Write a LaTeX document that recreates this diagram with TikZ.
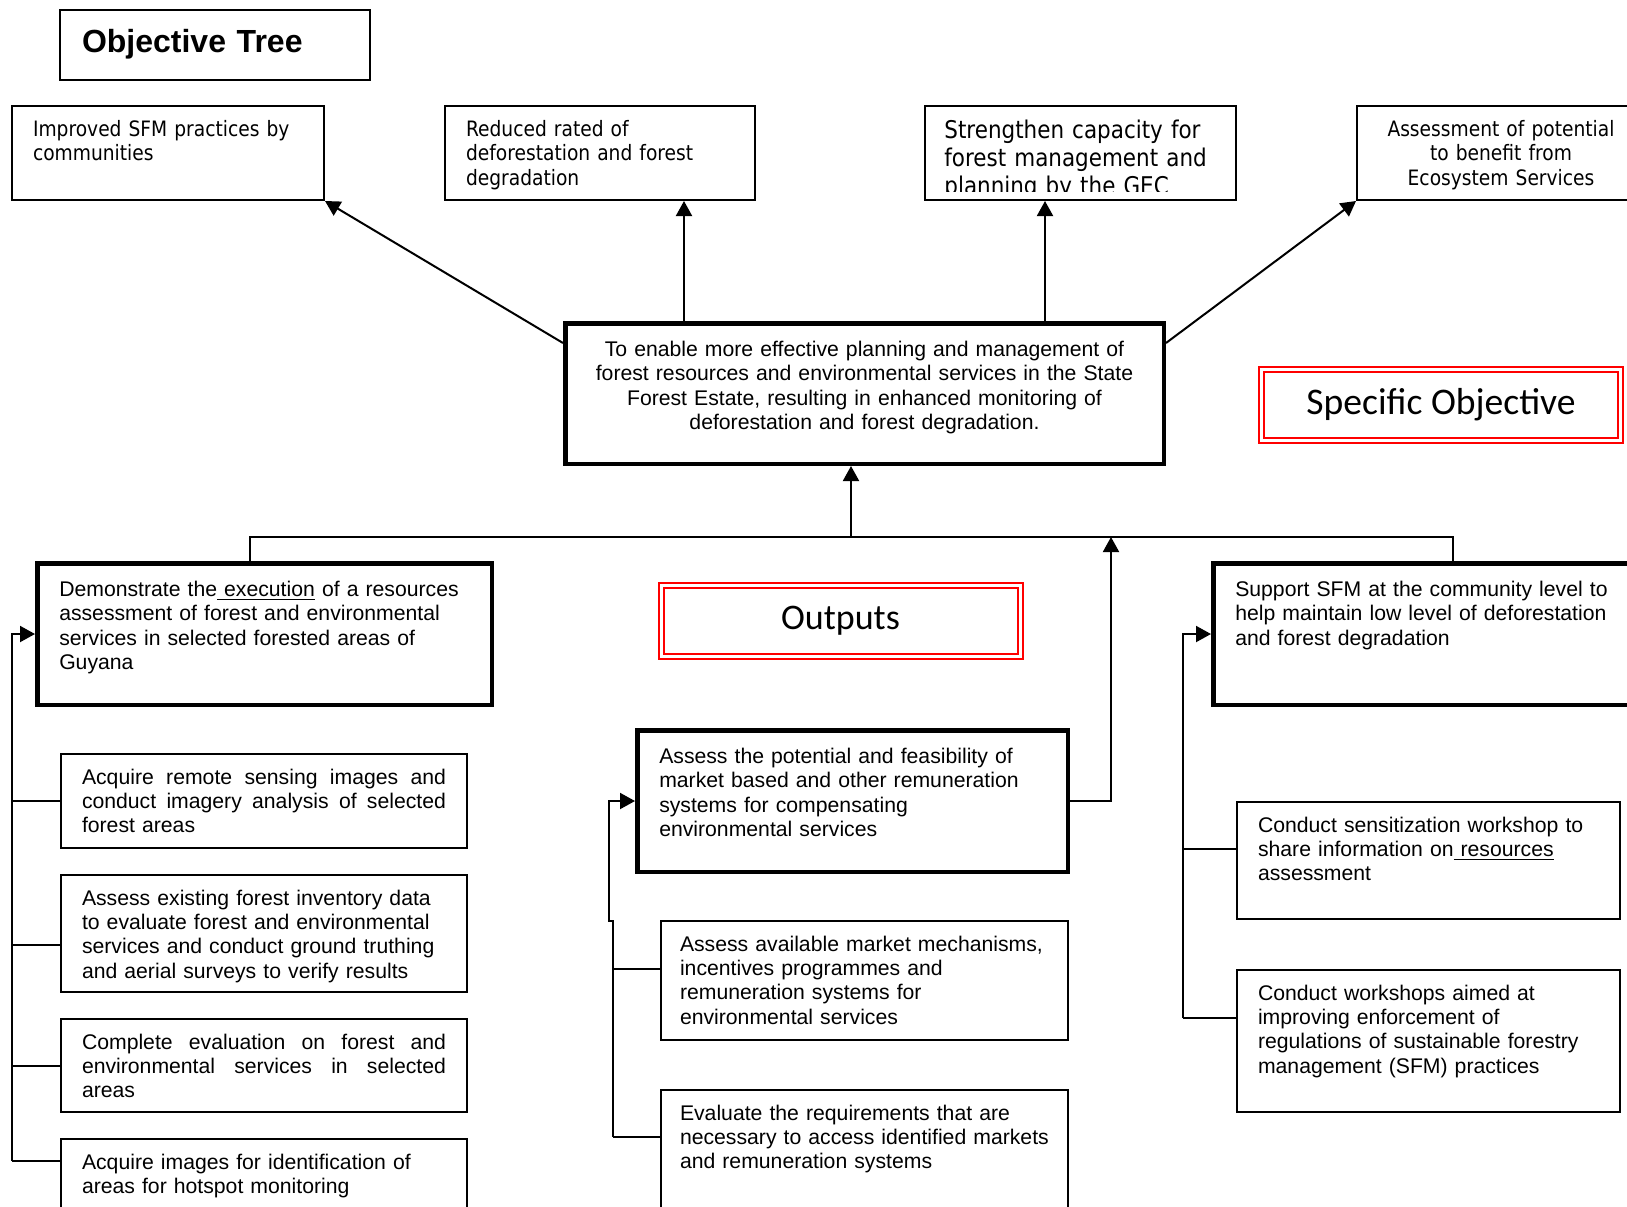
\documentclass[tikz,border=0pt]{standalone}
\usepackage{fontspec}
\setmainfont{Liberation Sans}
\newfontfamily\tahoma[FakeStretch=0.88]{DejaVu Sans}
\newfontfamily\calibri{Carlito}
\usetikzlibrary{arrows.meta}
\newcommand{\jline}[1]{\makebox[\linewidth][s]{\spaceskip=.3em plus 2em\relax #1}}

\tikzset{
  box/.style={draw, line width=1pt, anchor=north west, align=left,
    inner xsep=10.5pt, inner ysep=7pt, text height=8pt,
    font=\fontsize{10.6}{12.2}\selectfont},
  thickbox/.style={box, line width=2.25pt, inner xsep=11pt, inner ysep=8.5pt},
  topbox/.style={box, font=\tahoma\fontsize{10.6}{12.4}\selectfont},
  redbox/.style={draw=red, double=white, double distance=1.5pt, line width=1pt,
    minimum width=179.5pt, minimum height=35.5pt,
    font=\calibri\fontsize{18}{22}\selectfont},
  arr/.style={-{Triangle[length=7.5pt,width=8pt]}, line width=1pt},
  link/.style={line width=1pt}
}

\begin{document}
\begin{tikzpicture}[x=0.5pt,y=-0.5pt]
    \useasboundingbox (0,0) rectangle (1627,1206);
    \node[box, text width=133pt, inner xsep=11pt, inner ysep=9.5pt,
    text height=11.5pt, text depth=4.5pt, font=\bfseries\fontsize{16}{19}\selectfont]
    (title) at (59,9) {Objective Tree};

    % results
    \node[topbox, text width=135pt, text depth=25pt] (res1) at (11,105)
    {Improved SFM practices by\\communities};
    \node[topbox, text width=134pt, text depth=25pt] (res2) at (444,105)
    {Reduced rated of\\deforestation and forest\\degradation};
    \node[draw, line width=1pt, anchor=north west, minimum width=155.5pt,
    minimum height=47pt] (res3) at (924,105) {};
    \begin{scope}
        \clip (924,105) rectangle (1237,191);
        \node[anchor=north west, inner sep=0pt, align=left, text width=140pt,
        text height=9pt, font=\tahoma\fontsize{12.2}{14}\selectfont] (res3txt) at (944,120)
        {Strengthen capacity for\\forest management and\\planning by the GEC};
    \end{scope}
    \node[topbox, align=center, text width=123pt, text depth=25pt] (res4) at (1356,105)
    {Assessment of potential\\to benefit from\\Ecosystem Services};

    % specific objective
    \node[thickbox, align=center, text width=279.25pt, inner xsep=10pt, text depth=45.25pt]
    (purpose) at (563,321)
    {To enable more effective planning and management of\\
    forest resources and environmental services in the State\\
    Forest Estate, resulting in enhanced monitoring of\\
    deforestation and forest degradation.};
    \node[redbox, font=\calibri\fontsize{18.8}{22}\selectfont] (lblso) at (1441,405)
    {Specific Objective};
    \node[redbox] (lblout) at (840.5,621) {Outputs};

    \draw[arr] ([yshift=-11pt]purpose.north west) -- (res1.south east);
    \draw[arr] (purpose.north -| 684,0) -- (res2.south -| 684,0);
    \draw[arr] (purpose.north -| 1045,0) -- (res3.south -| 1045,0);
    \draw[arr] ([yshift=-11pt]purpose.north east) -- (res4.south west);

    % outputs
    \node[thickbox, text width=205.25pt, text depth=45.75pt] (out1) at (35,561)
    {Demonstrate the\underline{ execution} of a resources\\
    assessment of forest and environmental\\
    services in selected forested areas of\\Guyana};
    \node[thickbox, text width=193.25pt, text depth=45.75pt] (out2) at (635,728)
    {Assess the potential and feasibility of\\
    market based and other remuneration\\
    systems for compensating\\environmental services};
    \node[thickbox, text width=195.5pt, text depth=45.75pt] (out3) at (1211,561)
    {Support SFM at the community level to\\
    help maintain low level of deforestation\\
    and forest degradation};

    \coordinate (barL) at (250,537);
    \coordinate (barR) at (1453,537);
    \coordinate (barUp) at (851,537);
    \coordinate (barIn) at (1111,537);
    \draw[link] (barL |- out1.north) -- (barL) -- (barR) -- (barR |- out3.north);
    \draw[arr] (barUp) -- (barUp |- purpose.south);
    \draw[arr] (out2.east) -- (out2.east -| barIn) -- (barIn);

    % activities
    \node[box, text width=182pt, text depth=25pt] (act1) at (60,753)
    {\jline{Acquire remote sensing images and}\\
    \jline{conduct imagery analysis of selected}\\forest areas};
    \node[box, text width=182pt, text depth=36.5pt] (act2) at (60,874)
    {Assess existing forest inventory data\\
    to evaluate forest and environmental\\
    services and conduct ground truthing\\
    and aerial surveys to verify results};
    \node[box, text width=182pt, text depth=24.5pt] (act3) at (60,1018)
    {\jline{Complete evaluation on forest and}\\
    \jline{environmental services in selected}\\areas};
    \node[box, text width=182pt, text depth=19pt] (act4) at (60,1138)
    {Acquire images for identification of\\areas for hotspot monitoring};

    \node[box, text width=184.5pt, inner xsep=9.5pt, text depth=37.5pt] (act5) at (660,920)
    {Assess available market mechanisms,\\
    incentives programmes and\\
    remuneration systems for\\environmental services};
    \node[box, text width=184.5pt, inner xsep=9.5pt, text depth=43.5pt] (act6) at (660,1089)
    {Evaluate the requirements that are\\
    necessary to access identified markets\\
    and remuneration systems};

    \node[box, text width=170.5pt, text depth=36.5pt] (act7) at (1236,801)
    {Conduct sensitization workshop to\\
    share information on\underline{ resources}\\assessment};
    \node[box, text width=170.5pt, text depth=49pt] (act8) at (1236,969)
    {Conduct workshops aimed at\\
    improving enforcement of\\
    regulations of sustainable forestry\\
    management (SFM) practices};

    % spines
    \coordinate (spL) at (12,1161);
    \draw[arr] (spL) -- (spL |- out1.west) -- (out1.west);
    \draw[link] (spL |- act1.west) -- (act1.west);
    \draw[link] (spL |- 0,945) -- (act2.west |- 0,945);
    \draw[link] (spL |- act3.west) -- (act3.west);
    \draw[link] (spL) -- (act4.west |- spL);

    \coordinate (spM) at (613,1137);
    \draw[arr] (spM) -- (spM |- 0,921) -- ++(-4,0) |- (out2.west);
    \draw[link] (spM |- 0,969) -- (act5.west |- 0,969);
    \draw[link] (spM) -- (act6.west |- spM);

    \coordinate (spR) at (1183,1018);
    \draw[arr] (spR) -- (spR |- out3.west) -- (out3.west);
    \draw[link] (spR |- 0,849) -- (act7.west |- 0,849);
    \draw[link] (spR) -- (act8.west |- spR);
\end{tikzpicture}
\end{document}
